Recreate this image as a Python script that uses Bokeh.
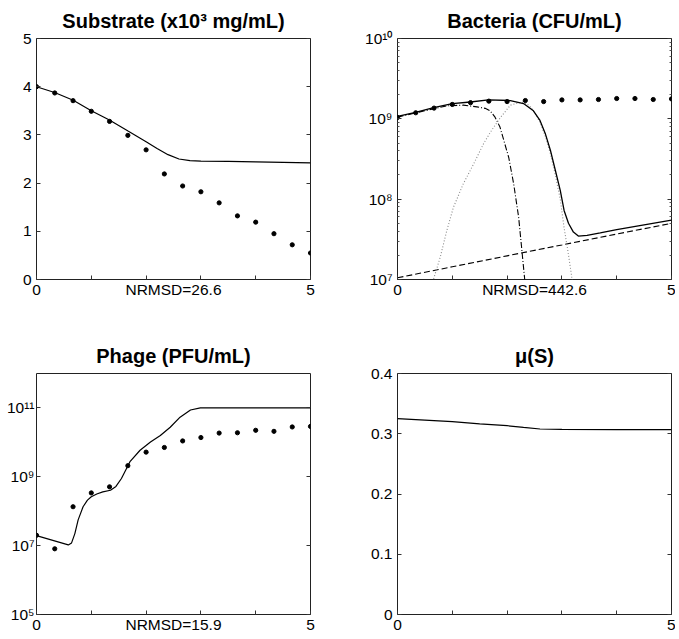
from bokeh.plotting import figure
from bokeh.models import FixedTicker, LinearAxis, LogAxis, Range1d, CustomJSTickFormatter
from bokeh.layouts import gridplot
from bokeh.embed import file_html
from bokeh.resources import INLINE

FONT = "Liberation Sans"

# ---------------- data ----------------
t_obs = [0.0, 0.333, 0.667, 1.0, 1.333, 1.667, 2.0, 2.333, 2.667, 3.0,
         3.333, 3.667, 4.0, 4.333, 4.667, 5.0]

# Substrate (x10^3 mg/mL)
S_obs = [4.00, 3.87, 3.71, 3.49, 3.28, 2.99, 2.69, 2.19, 1.94, 1.82,
         1.59, 1.32, 1.19, 0.95, 0.72, 0.55]
t_S = [0.0, 0.33, 0.67, 1.0, 1.33, 1.67, 2.0, 2.2, 2.4, 2.6, 2.8, 3.0, 3.5, 4.0, 4.5, 5.0]
S_mod = [4.00, 3.88, 3.72, 3.50, 3.31, 3.08, 2.86, 2.72, 2.59, 2.50, 2.465, 2.455,
         2.45, 2.44, 2.43, 2.42]

# Bacteria (CFU/mL)
B_obs = [1.04e9, 1.19e9, 1.36e9, 1.51e9, 1.59e9, 1.66e9, 1.64e9, 1.69e9, 1.64e9,
         1.72e9, 1.72e9, 1.74e9, 1.79e9, 1.79e9, 1.74e9, 1.77e9]
t_Btot = [0.0, 0.33, 0.66, 1.0, 1.33, 1.66, 2.06, 2.30, 2.48, 2.60, 2.70, 2.79, 2.88,
          2.97, 3.04, 3.12, 3.21, 3.30, 3.46, 3.70, 4.0, 4.5, 5.0]
B_tot = [1.07e9, 1.20e9, 1.38e9, 1.55e9, 1.62e9, 1.72e9, 1.69e9, 1.55e9, 1.26e9,
         9.55e8, 6.46e8, 4.07e8, 2.29e8, 1.29e8, 7.24e7, 5.01e7, 3.89e7, 3.47e7,
         3.55e7, 3.80e7, 4.17e7, 4.79e7, 5.50e7]
t_Bsus = [0.0, 0.5, 0.9, 1.2, 1.45, 1.6, 1.69, 1.78, 1.87, 2.03, 2.12, 2.21, 2.27,
          2.32, 2.36]
B_sus = [1.05e9, 1.26e9, 1.45e9, 1.48e9, 1.41e9, 1.35e9, 1.26e9, 1.05e9, 7.9e8,
         3.3e8, 1.55e8, 6.0e7, 2.3e7, 1.02e7, 5.0e6]
t_Binf = [0.62, 0.66, 0.78, 0.90, 1.02, 1.20, 1.39, 1.57, 1.70, 1.87, 2.06, 2.27,
          2.40, 2.50, 2.60, 2.70, 2.79, 2.88, 2.97, 3.04, 3.12, 3.18, 3.23]
B_inf = [7.9e6, 1.02e7, 1.9e7, 4.07e7, 7.9e7, 1.55e8, 2.75e8, 4.9e8, 6.9e8, 1.02e9,
         1.48e9, 1.62e9, 1.48e9, 1.2e9, 9.1e8, 6.0e8, 3.7e8, 2.0e8, 1.0e8, 4.4e7,
         2.04e7, 1.07e7, 6.3e6]
t_Bres = [0.0, 1.0, 2.0, 3.0, 4.0, 5.0]
B_res = [1.05e7, 1.44e7, 1.97e7, 2.69e7, 3.68e7, 5.0e7]

# Phage (PFU/mL)
P_obs = [2.0e7, 8.1e6, 1.35e8, 3.4e8, 5.1e8, 2.1e9, 5.2e9, 7.1e9, 1.1e10, 1.38e10,
         1.86e10, 1.9e10, 2.24e10, 2.09e10, 2.8e10, 2.9e10]
t_P = [0.0, 0.58, 0.64, 0.70, 0.76, 0.85, 0.93, 1.0, 1.1, 1.21, 1.35, 1.45, 1.55,
       1.71, 1.89, 2.08, 2.26, 2.44, 2.62, 2.81, 2.99, 5.0]
P_mod = [1.95e7, 1.05e7, 1.2e7, 2.24e7, 5.6e7, 1.35e8, 2.1e8, 2.63e8, 3.16e8, 3.63e8,
         4.07e8, 5.25e8, 8.9e8, 2.82e9, 5.9e9, 1.02e10, 1.58e10, 2.75e10, 5.4e10,
         8.7e10, 1.0e11, 1.0e11]

# mu(S)
t_mu = [0.0, 0.5, 1.0, 1.5, 2.0, 2.3, 2.6, 3.0, 4.0, 5.0]
mu = [0.325, 0.3225, 0.320, 0.3165, 0.3134, 0.3105, 0.3079, 0.3072, 0.307, 0.3068]

# ticks / labels
x_ticks = [0, 1, 2, 3, 4, 5]
x_tick_labels = {0: "0", 1: "", 2: "", 3: "", 4: "", 5: "5"}
S_ticks = [0, 1, 2, 3, 4, 5]
S_tick_labels = {0: "0", 1: "1", 2: "2", 3: "3", 4: "4", 5: "5"}
B_ticks = [1e7, 1e8, 1e9, 1e10]
B_tick_labels = {1e7: "10\u2077", 1e8: "10\u2078", 1e9: "10\u2079", 1e10: "10\u00b9\u2070"}
B_minor = [m * d for d in (1e7, 1e8, 1e9) for m in range(2, 10)]
P_ticks = [1e5, 1e7, 1e9, 1e11]
P_tick_labels = {1e5: "10\u2075", 1e7: "10\u2077", 1e9: "10\u2079", 1e11: "10\u00b9\u00b9"}
mu_ticks = [0, 0.1, 0.2, 0.3, 0.4]
mu_tick_labels = {0: "0", 0.1: "0.1", 0.2: "0.2", 0.3: "0.3", 0.4: "0.4"}

titles = ["Substrate (x10\u00b3 mg/mL)", "Bacteria (CFU/mL)", "Phage (PFU/mL)", "\u03bc(S)"]
nrmsd = ["NRMSD=26.6", "NRMSD=442.6", "NRMSD=15.9", ""]


def style_axis(ax, hidden=False):
    ax.axis_line_color = None
    ax.major_tick_in = 4
    ax.major_tick_out = 0
    ax.minor_tick_in = 2
    ax.minor_tick_out = 0
    ax.major_tick_line_color = "#333333"
    ax.minor_tick_line_color = "#555555"
    ax.major_label_text_font = FONT
    ax.major_label_text_font_size = "15.5px"
    ax.major_label_text_color = "black"
    if hidden:
        ax.formatter = CustomJSTickFormatter(code="return ''")
        ax.major_label_standoff = 0


def make_fig(width, height, left, right, top, bottom, y_range, yticker, ylabels,
             title, note, log=False):
    p = figure(width=width, height=height, output_backend="svg", toolbar_location=None,
               tools="", x_range=Range1d(0, 5), y_range=y_range, title=title,
               y_axis_type="log" if log else "linear",
               min_border_left=left, min_border_right=right,
               min_border_top=top, min_border_bottom=bottom)
    p.grid.visible = False
    p.outline_line_color = "#222222"
    p.background_fill_color = "white"
    p.border_fill_color = "white"
    p.title.align = "center"
    p.title.text_font = FONT
    p.title.text_font_style = "bold"
    p.title.text_font_size = "20px"
    p.title.text_color = "black"
    p.title.standoff = 14
    xa = p.xaxis[0]
    ya = p.yaxis[0]
    xa.ticker = FixedTicker(ticks=x_ticks)
    ya.ticker = yticker
    style_axis(xa)
    style_axis(ya)
    xa.major_label_overrides = x_tick_labels
    ya.major_label_overrides = ylabels
    xa.major_label_standoff = 5
    if note:
        xa.axis_label = note
        xa.axis_label_text_font = FONT
        xa.axis_label_text_font_style = "normal"
        xa.axis_label_text_font_size = "15.5px"
        xa.axis_label_text_color = "black"
        xa.axis_label_standoff = -17
    ax_r = (LogAxis if log else LinearAxis)(ticker=yticker)
    style_axis(ax_r, hidden=True)
    p.add_layout(ax_r, "right")
    return p


# ---- Substrate ----
p1 = make_fig(349, 319, 36, 39, 38, 40, Range1d(0, 5), FixedTicker(ticks=S_ticks),
              S_tick_labels, titles[0], nrmsd[0])
p1.line(t_S, S_mod, line_color="black", line_width=1.2)
p1.scatter(t_obs, S_obs, size=4.2, color="black")

# ---- Bacteria ----
p2 = make_fig(326, 319, 48, 4, 38, 40, Range1d(1e7, 1e10),
              FixedTicker(ticks=B_ticks, minor_ticks=B_minor), B_tick_labels,
              titles[1], nrmsd[1], log=True)
p2.line(t_Bres, B_res, line_color="black", line_width=1.1, line_dash="6 3")
p2.line(t_Bsus, B_sus, line_color="black", line_width=1.1, line_dash="6 2 1 2")
p2.line(t_Binf, B_inf, line_color="#8a8a8a", line_width=1.1, line_dash="1 2")
p2.line(t_Btot, B_tot, line_color="black", line_width=1.3)
p2.scatter(t_obs, B_obs, size=4.2, color="black")

# ---- Phage ----
p3 = make_fig(349, 319, 36, 39, 54, 24, Range1d(1e5, 1e12),
              FixedTicker(ticks=P_ticks), P_tick_labels, titles[2], nrmsd[2], log=True)
p3.yaxis[0].major_label_standoff = 2
p3.line(t_P, P_mod, line_color="black", line_width=1.2)
p3.scatter(t_obs, P_obs, size=4.2, color="black")

# ---- mu(S) ----
p4 = make_fig(326, 319, 48, 4, 54, 24, Range1d(0, 0.4), FixedTicker(ticks=mu_ticks),
              mu_tick_labels, titles[3], nrmsd[3])
p4.line(t_mu, mu, line_color="black", line_width=1.2)

grid = gridplot([[p1, p2], [p3, p4]], toolbar_location=None)
open("out.html", "w").write(file_html(grid, INLINE))
